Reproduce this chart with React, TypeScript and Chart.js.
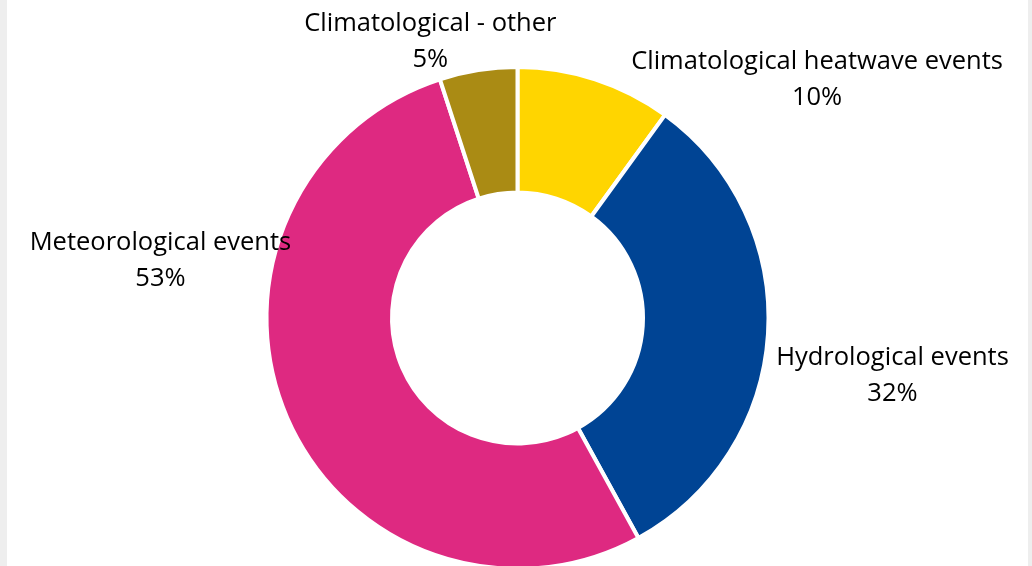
import React, { useEffect, useRef } from "react";
import { Chart, registerables } from "chart.js";

Chart.register(...registerables);

const categories = [
  "Climatological heatwave events",
  "Hydrological events",
  "Meteorological events",
  "Climatological - other",
];
const values = [10, 32, 53, 5];
const percentLabels = ["10%", "32%", "53%", "5%"];
const colors = ["#FFD500", "#004494", "#DE2981", "#AA8B14"];
// label offsets from chart centre, as fractions of the outer radius
const labelOffsets: [number, number][] = [
  [1.203, -0.956],
  [1.506, 0.231],
  [-1.434, -0.231],
  [-0.35, -1.108],
];

const FONT = "'Open Sans', Lato, sans-serif";

const labelPlugin = {
  id: "outerLabels",
  afterDraw(chart: any) {
    const ctx = chart.ctx;
    const meta = chart.getDatasetMeta(0);
    ctx.save();
    ctx.fillStyle = "#000000";
    ctx.font = `25.5px ${FONT}`;
    ctx.textAlign = "center";
    ctx.textBaseline = "middle";
    meta.data.forEach((arc: any, i: number) => {
      const { x, y, outerRadius } = arc.getProps(["x", "y", "outerRadius"], true);
      const r = outerRadius - 2;
      const lx = x + labelOffsets[i][0] * r;
      const ly = y + labelOffsets[i][1] * r;
      ctx.fillText(chart.data.labels[i], lx, ly - 18);
      ctx.fillText(percentLabels[i], lx, ly + 18);
    });
    ctx.restore();
  },
};

export default function App() {
  const ref = useRef<HTMLCanvasElement | null>(null);
  useEffect(() => {
    if (!ref.current) return;
    const chart = new Chart(ref.current, {
      type: "doughnut",
      data: {
        labels: categories,
        datasets: [
          {
            data: values,
            backgroundColor: colors,
            borderColor: "#ffffff",
            borderWidth: 4,
          },
        ],
      },
      options: {
        responsive: false,
        animation: false,
        cutout: "50%",
        layout: { padding: { top: 65, bottom: 65, left: 0, right: 0 } },
        plugins: {
          legend: { display: false },
          tooltip: { enabled: false },
        },
      },
      plugins: [labelPlugin],
    });
    return () => chart.destroy();
  }, []);
  return (
    <div
      style={{
        position: "fixed",
        left: 0,
        top: 0,
        width: 1032,
        height: 566,
        background: "#eeeeee",
        overflow: "hidden",
      }}
    >
      <div
        style={{
          position: "absolute",
          left: 7,
          top: 0,
          width: 1021,
          height: 636,
          background: "#ffffff",
        }}
      >
        <canvas ref={ref} width={1021} height={636} style={{ display: "block" }} />
      </div>
    </div>
  );
}
